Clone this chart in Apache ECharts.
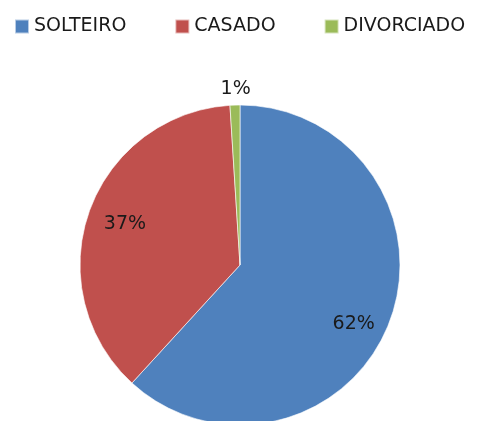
<!DOCTYPE html>
<html>
<head>
<meta charset="utf-8">
<script src="https://cdn.jsdelivr.net/npm/echarts@6/dist/echarts.min.js"></script>
<style>
html, body { margin: 0; padding: 0; background: #fff; }
#chart { width: 478px; height: 421px; }
</style>
</head>
<body>
<div id="chart"></div>
<script>
// dados do gráfico
var categorias = ['SOLTEIRO', 'CASADO', 'DIVORCIADO'];
var valores = [61.8, 37.2, 1.0];
var cores = ['#4F81BD', '#C0504D', '#9BBB59'];

var myChart = echarts.init(document.getElementById('chart'));

var dadosPizza = [], dadosRotulos = [];
for (var i = 0; i < categorias.length; i++) {
	dadosPizza.push({
		name: categorias[i],
		value: valores[i],
		itemStyle: { color: cores[i] },
		// só o menor fica com rótulo por fora
		label: { show: i === 2 }
	});
	dadosRotulos.push({
		name: categorias[i],
		value: valores[i],
		label: { show: i !== 2 }
	});
}

function pct(p) {
	return Math.round(p.percent) + '%';
}

var option = {
	animation: false,
	color: cores,
	legend: {
		data: categorias,
		left: 14,
		top: 17,
		padding: 0,
		icon: 'rect',
		itemWidth: 14,
		itemHeight: 14,
		itemGap: 48,
		textStyle: { fontFamily: 'DejaVu Sans', fontSize: 19, color: '#1a1a1a' }
	},
	series: [{
			name: 'estado',
			type: 'pie',
			center: [240, 265],
			radius: 160,
			startAngle: 90,
			clockwise: true,
			avoidLabelOverlap: false,
			itemStyle: { borderColor: 'rgba(255,255,255,0.6)', borderWidth: 1 },
			label: {
				position: 'outside',
				formatter: pct,
				fontFamily: 'DejaVu Sans',
				fontSize: 19,
				color: '#1a1a1a'
			},
			labelLine: { show: false, length: 8, length2: 0 },
			labelLayout: function () {
				return { dx: 21, dy: -8 };
			},
			emphasis: { disabled: true },
			data: dadosPizza
		},
		{
			// série transparente só para posicionar os rótulos internos
			name: 'rotulos',
			type: 'pie',
			center: [240, 265],
			radius: 238,
			startAngle: 90,
			clockwise: true,
			silent: true,
			itemStyle: { color: 'rgba(0,0,0,0)' },
			label: {
				position: 'inside',
				formatter: pct,
				fontFamily: 'DejaVu Sans',
				fontSize: 19,
				color: '#1a1a1a'
			},
			labelLine: { show: false },
			labelLayout: function (p) {
				return p.dataIndex === 0 ? { dy: 15 } : {};
			},
			emphasis: { disabled: true },
			data: dadosRotulos
		}
	]
};
myChart.setOption(option);
</script>
</body>
</html>
